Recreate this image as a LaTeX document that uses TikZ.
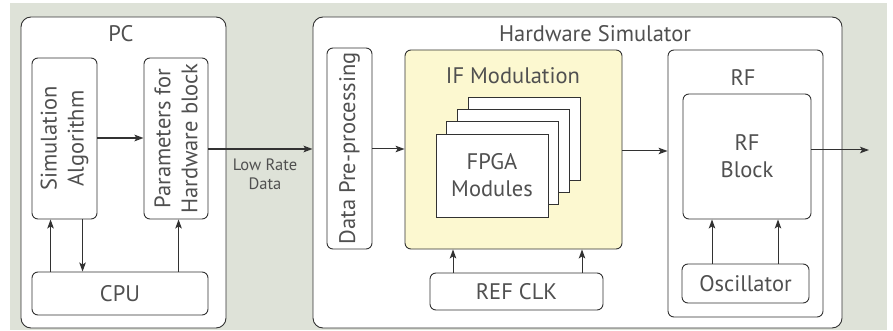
\documentclass[tikz,border=0pt]{standalone}
\usepackage{fontspec}
\setmainfont{PT Sans}
\usetikzlibrary{arrows.meta}
\definecolor{bgc}{RGB}{222,226,216}
\definecolor{ifc}{RGB}{252,248,208}
\definecolor{linec}{RGB}{50,50,50}
\definecolor{txtc}{RGB}{80,80,80}
\tikzset{
  box/.style={draw=linec, line width=0.9pt, fill=white, rounded corners=6pt, inner sep=0pt},
  bigbox/.style={box, rounded corners=10pt},
  sqbox/.style={draw=linec, line width=0.9pt, fill=white, inner sep=0pt, minimum width=112pt, minimum height=83pt},
  txt/.style={text=txtc, font=\fontsize{22.5}{27}\selectfont, align=center, inner sep=0pt},
  arr/.style={draw=linec, line width=1pt, -{Stealth[length=9pt,width=6.5pt,inset=2pt]}},
  tarr/.style={arr, line width=1.8pt},
}
\begin{document}
\begin{tikzpicture}[x=1pt,y=-1pt]
\useasboundingbox (0,0) rectangle (893,331);
\fill[bgc] (10,3) rectangle (887,330);
% PC
\node[bigbox, minimum width=205pt, minimum height=311pt] (pc) at (123.5,172.5) {};
\node[txt] (pct) at (121,34) {PC};
\node[box, minimum width=65pt, minimum height=161pt] (sim) at (64.5,138.5) {};
\node[txt, rotate=90] (simt) at (sim.center) {Simulation\\Algorithm};
\node[box, minimum width=64pt, minimum height=161pt] (par) at (176,138.5) {};
\node[txt, rotate=90] (part) at (par.center) {Parameters for\\Hardware block};
\node[box, minimum width=176pt, minimum height=43pt] (cpu) at (120,293.5) {};
\node[txt] (cput) at (cpu.center) {CPU};
\draw[tarr] (sim.east |- 0,138) -- (par.west |- 0,138);
\draw[arr] ([xshift=19pt]cpu.north west) -- ([xshift=19pt]sim.south west);
\draw[arr] ([xshift=51pt]sim.south west) -- ([xshift=51pt]cpu.north west);
\draw[arr] ([xshift=147pt]cpu.north west) -- ([xshift=35pt]par.south west);
% Hardware simulator
\node[bigbox, minimum width=529pt, minimum height=311pt] (hw) at (577.5,172.5) {};
\node[txt] (hwt) at (595,34) {Hardware Simulator};
\draw[tarr] (par.east |- 0,149) -- (hw.west |- 0,149);
\node[txt, font=\fontsize{16.5}{19}\selectfont] (lrd) at (265,174) {Low Rate\\Data};
\node[box, minimum width=45pt, minimum height=201pt] (dpp) at (349.5,148.5) {};
\node[txt, rotate=90] (dppt) at (dpp.center) {Data Pre-processing};
\node[box, fill=ifc, minimum width=217pt, minimum height=199pt] (ifm) at (513.5,149.5) {};
\node[txt] (ifmt) at (513,76) {IF Modulation};
\draw[arr] (dpp.east |- 0,149) -- (ifm.west |- 0,149);
\node[sqbox] (f4) at (524,138.5) {};
\node[sqbox] (f3) at (513,150.5) {};
\node[sqbox] (f2) at (502.5,163) {};
\node[sqbox] (f1) at (492,175.5) {};
\node[txt] (f1t) at (f1.center) {FPGA\\Modules};
\node[box, minimum width=173pt, minimum height=37pt] (ref) at (516.5,291.5) {};
\node[txt] (reft) at (ref.center) {REF CLK};
\draw[arr] (ref.north -| 453,0) -- (ifm.south -| 453,0);
\draw[arr] (ref.north -| 582,0) -- (ifm.south -| 582,0);
% RF
\node[box, minimum width=155pt, minimum height=267pt] (rf) at (745.5,183.5) {};
\node[txt] (rft) at (743,78) {RF};
\draw[arr] (ifm.east |- 0,151) -- (rf.west |- 0,151);
\node[box, minimum width=128pt, minimum height=125pt] (rfb) at (747,156.5) {};
\node[txt] (rfbt) at (rfb.center) {RF\\Block};
\node[box, minimum width=127pt, minimum height=39pt] (osc) at (745.5,283.5) {};
\node[txt] (osct) at (osc.center) {Oscillator};
\draw[arr] (osc.north -| 712,0) -- (rfb.south -| 712,0);
\draw[arr] (osc.north -| 778,0) -- (rfb.south -| 778,0);
\coordinate (out) at (869,150);
\draw[arr] (rfb.east |- out) -- (out);
\end{tikzpicture}
\end{document}
